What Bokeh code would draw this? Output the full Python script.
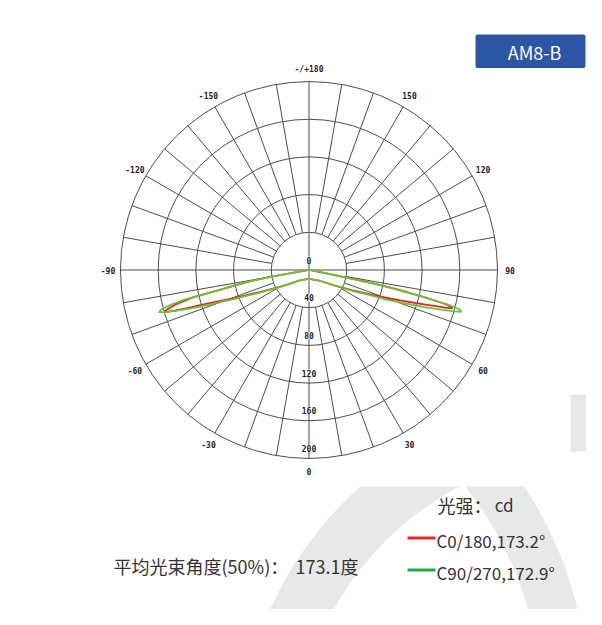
import numpy as np
from bokeh.plotting import figure
from bokeh.models import Range1d
from bokeh.embed import file_html
from bokeh.resources import INLINE
from bokeh.core.properties import value

# ---------------- data ----------------
ring_values = [40, 80, 120, 160, 200]
ring_labels = ["40", "80", "120", "160", "200"]
angle_label_deg = [0, 30, 60, 90, 120, 150, 180, -150, -120, -90, -60, -30]
angle_label_text = ["0", "30", "60", "90", "120", "150", "-/+180",
                    "-150", "-120", "-90", "-60", "-30"]

# C0 / C180 (red), C90 / C270 (green): gamma angle (deg) -> intensity (cd)
c0_ang = [0, 10, 20, 30, 40, 45, 50, 55, 60, 62.5, 65, 67.5, 69, 70, 71, 72, 73, 74,
          74.6, 75, 75.5, 76, 76.7, 77.5, 78.2, 78.7, 79.2, 79.7, 80.5, 82.5, 85, 90,
          100, 120, 150, 180]
c0_cd = [9.5, 9.8, 10.5, 12, 14.5, 16.5, 19.5, 25, 34, 41, 51, 64, 76, 85, 96, 108, 122, 138,
         150, 157, 156, 148, 128, 100, 72, 45, 20, 8, 3, 1.5, 1, 0.8,
         0.5, 0.5, 0.5, 0.5]

c180_ang = [0, 10, 20, 30, 40, 45, 50, 55, 60, 62.5, 65, 67.5, 69, 70, 71, 72, 72.6, 73.2,
            73.6, 74, 74.6, 75.5, 76.6, 77.4, 78.3, 79.2, 79.9, 80.5, 81.5, 85, 90,
            100, 120, 150, 180]
c180_cd = [9.5, 9.8, 10.5, 12, 14.5, 16.5, 20, 26, 36, 43, 53, 67, 80, 90, 103, 120, 134, 150,
           157, 159, 155, 146, 128, 98, 78, 62, 40, 12, 4, 2, 1,
           0.5, 0.5, 0.5, 0.5]

c90_ang = [0, 10, 20, 30, 40, 45, 50, 55, 60, 62.5, 65, 67.5, 69, 70, 71, 72, 73, 74,
           74.6, 75, 75.5, 76, 76.7, 77.5, 78.0, 78.3, 78.7, 79.5, 80, 82.5, 85, 90,
           100, 120, 150, 180]
c90_cd = [9.5, 9.8, 10.5, 12, 14.5, 16.5, 19.5, 25, 35, 43, 54, 70, 88, 98, 110, 126, 142, 158,
          167, 167, 162, 153, 125, 95, 80, 45, 25, 10, 6, 3, 2, 1,
          0.5, 0.5, 0.5, 0.5]

c270_ang = [0, 10, 20, 30, 40, 45, 50, 55, 60, 62.5, 65, 67.5, 69, 70, 71, 72, 73, 73.8,
            74.3, 75, 75.8, 76.6, 77.4, 78.3, 79.2, 79.9, 80.5, 81.5, 85, 90,
            100, 120, 150, 180]
c270_cd = [9.5, 9.8, 10.5, 12, 14.5, 16.5, 20, 26, 37, 45, 56, 72, 87, 98, 115, 132, 148, 160,
           165, 163, 152, 136, 100, 80, 63, 40, 12, 4, 2, 1,
           0.5, 0.5, 0.5, 0.5]

legend_labels = ["C0/180,173.2°", "C90/270,172.9°"]
unit_label = ["光强：", "cd"]
beam_label = ["平均光束角度(50%)：", "173.1度"]
badge_label = "AM8-B"

# ---------------- styling / layout ----------------
W, H = 586, 609
CX, CY = 308.5, 269.5          # polar centre (px)
R_OUT = 188.5                   # px for 200 cd
SCALE = R_OUT / 200.0
GRID = "#4d4d4d"
RED_CURVE = "#e8221c"
GREEN_CURVE = "#68c43c"
RED_LEG = "#e8262b"
GREEN_LEG = "#1fa84b"
WM = "#e7e8ea"
TXT = "#333333"
CJK = value("Noto Sans CJK SC")

p = figure(width=W, height=H, x_range=Range1d(0, W), y_range=Range1d(H, 0),
           output_backend="svg", toolbar_location=None, min_border=0,
           x_axis_type=None, y_axis_type=None)
p.grid.visible = False
p.outline_line_color = None
p.background_fill_color = "white"
p.border_fill_color = "white"

# ---- watermark bands (decoration): ring segments as polygons ----
wm_bands = [  # centre x, centre y, inner r, outer r, start deg, end deg
    (604, 760, 310, 367, 55, 200),
    (200, 700, 340, 388, -30, 60),
]
wxs, wys = [], []
for bx, by, ri, ro, a0, a1 in wm_bands:
    ph = np.radians(np.linspace(a0, a1, 120))
    xo = bx + ro * np.cos(ph)
    yo = by - ro * np.sin(ph)
    xi = bx + ri * np.cos(ph[::-1])
    yi = by - ri * np.sin(ph[::-1])
    wxs.append(np.concatenate([xo, xi]))
    wys.append(np.concatenate([yo, yi]))
p.patches(xs=wxs, ys=wys, fill_color=WM, line_color=None)
# chart image area (white) covering the watermark above
p.quad(left=[0], right=[570], top=[0], bottom=[486], fill_color="white", line_color=None)

# ---- polar grid ----
p.circle(x=[CX] * len(ring_values), y=[CY] * len(ring_values),
         radius=[v * SCALE for v in ring_values],
         fill_color=None, line_color=GRID, line_width=1)

xs, ys = [], []
for a in range(0, 360, 10):
    t = np.radians(a)
    r0 = 0 if a % 90 == 0 else ring_values[0] * SCALE
    xs.append([CX + r0 * np.sin(t), CX + R_OUT * np.sin(t)])
    ys.append([CY + r0 * np.cos(t), CY + R_OUT * np.cos(t)])
p.multi_line(xs=xs, ys=ys, line_color=GRID, line_width=1)

# ring labels
rl_text = ["0"] + ring_labels
rl_y = [CY - 10] + [CY + v * SCALE - 10 for v in ring_values]
p.text(x=[CX] * len(rl_text), y=rl_y, text=rl_text,
       text_font=value("DejaVu Sans Mono"), text_font_style="bold",
       text_font_size="8px", text_color="#222222", text_align="center",
       text_baseline="middle", background_fill_color="white")

# angle labels
LR = 201
al_x = [CX + LR * np.sin(np.radians(a)) for a in angle_label_deg]
al_y = [CY + LR * np.cos(np.radians(a)) for a in angle_label_deg]
p.text(x=al_x, y=al_y, text=angle_label_text,
       text_font=value("DejaVu Sans Mono"), text_font_style="bold",
       text_font_size="8px", text_color="#222222", text_align="center",
       text_baseline="middle")


# ---- curves ----
def closed_curve(ang_r, cd_r, ang_l, cd_l):
    ar = np.radians(np.array(ang_r, float))
    rr = np.array(cd_r, float) * SCALE
    al = np.radians(np.array(ang_l, float))[::-1]
    rl = np.array(cd_l, float)[::-1] * SCALE
    x = np.concatenate([CX + rr * np.sin(ar), CX - rl * np.sin(al)])
    y = np.concatenate([CY + rr * np.cos(ar), CY + rl * np.cos(al)])
    x = np.append(x, x[0])
    y = np.append(y, y[0])
    return x, y


rx, ry = closed_curve(c0_ang, c0_cd, c180_ang, c180_cd)
gx, gy = closed_curve(c90_ang, c90_cd, c270_ang, c270_cd)
p.line(rx, ry, line_color=RED_CURVE, line_width=1.8, line_join="round")
p.line(gx, gy, line_color=GREEN_CURVE, line_width=1.8, line_join="round")

# ---- legend ----
p.text(x=[437], y=[504], text=[unit_label[0]], text_font=CJK, text_font_size="18px",
       text_color=TXT, text_align="left", text_baseline="middle")
p.text(x=[513], y=[504], text=[unit_label[1]], text_font=CJK, text_font_size="17px",
       text_color=TXT, text_align="right", text_baseline="middle")
leg_y = [537.5, 569.5]
p.segment(x0=[407, 407], x1=[435, 435], y0=leg_y, y1=leg_y,
          line_color=[RED_LEG, GREEN_LEG], line_width=3)
p.text(x=[436, 436], y=[y + 2 for y in leg_y], text=legend_labels, text_font=CJK,
       text_font_size="17px", text_color=TXT, text_align="left", text_baseline="middle")

# beam angle text
p.text(x=[113], y=[565], text=[beam_label[0]], text_font=CJK, text_font_size="18px",
       text_color=TXT, text_align="left", text_baseline="middle")
p.text(x=[358], y=[565], text=[beam_label[1]], text_font=CJK, text_font_size="18px",
       text_color=TXT, text_align="right", text_baseline="middle")

# ---- badge ----
p.rect(x=[530], y=[50.75], width=[110], height=[33.5], fill_color="#2d55a5",
       line_color=None, border_radius=2)
p.text(x=[534], y=[51], text=[badge_label], text_font=CJK, text_font_size="18px",
       text_color="white", text_align="center", text_baseline="middle")

open("out.html", "w").write(file_html(p, INLINE))
